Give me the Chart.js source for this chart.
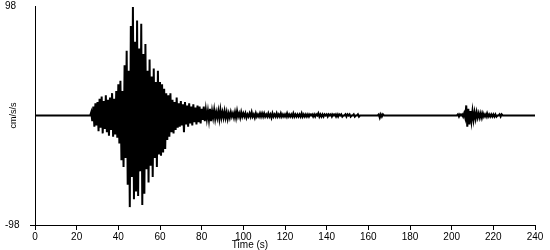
<!DOCTYPE html>
<html>
<head>
<meta charset="utf-8">
<script src="https://cdn.jsdelivr.net/npm/chart.js@4"></script>
<style>
  html, body { margin: 0; padding: 0; background: #fff; }
  #wrap { width: 550px; height: 250px; }
</style>
</head>
<body>
<div id="wrap"><canvas id="seismo"></canvas></div>
<script>
// sample spacing of the trace (s)
var sampleStep = 0.5;

// acceleration (cm/s/s), one row per 10 s
var accel = [
    0, 0, 0, 0, 0, 0, 0, 0, 0, 0, 0, 0, 0, 0, 0, 0, 0, 0, 0, 0,                      // 0-10
    0, 0, 0, 0, 0, 0, 0, 0, 0, 0, 0, 0, 0, 0, 0, 0, 0, 0, 0, 0,                      // 10-20
    0, 0, 0, 0, 0, 0, 0, 0, 0, 0, 0, 0, 0, 0, 3, -5, 8, -10, 11, -9,                 // 20-30
    12, -14, 15, -11, 17, -16, 13, -12, 18, -15, 14, -18, 16, -13, 20, -19, 15, -17, 22, -20,   // 30-40
    28, -25, 31, -40, 22, -46, 45, -38, 58, -62, 40, -82, 80, -55, 97, -75, 66, -68, 85, -72,   // 40-50
    60, -50, 82, -80, 55, -70, 64, -48, 40, -60, 50, -45, 35, -55, 42, -38, 30, -46, 40, -35,   // 50-60
    30, -36, 28, -33, 24, -30, 20, -22, 18, -19, 20, -15, 14, -16, 12, -13, 16, -11, 11, -10,   // 60-70
    13, -9, 10, -15, 12, -8, 9, -10, 11, -7, 8, -9, 10, -6, 7, -8, 9, -6, 8, -7,     // 70-80
    6, -4, 8, -5, 5, -3, 4, -4, 6, -5, 4, -2, 5, -3, 3, -2, 4, -3, 5, -2,            // 80-90
    3, -2, 4, -2, 3, -3, 2, -2, 3, -1, 2, -2, 3, -2, 4, -1, 2, -2, 3, -1,            // 90-100
    2, -1, 2, -2, 1, -1, 2, -1, 3, -1, 1, -2, 2, -1, 1, -1, 2, -1, 2, -1,            // 100-110
    2, -1, 1, -1, 2, -1, 1, -2, 2, -1, 1, -1, 2, -1, 1, -1, 2, -1, 1, -1,            // 110-120
    1, -1, 2, -1, 1, -1, 1, -1, 2, -1, 1, -1, 1, -1, 1, -1, 2, -1, 1, -1,            // 120-130
    1, -1, 1, -1, 1, 0, 1, -1, 1, -1, 1, 0, 2, -1, 1, -1, 1, -1, 1, 0,               // 130-140
    1, -1, 1, 0, 1, -1, 1, 0, 1, -1, 1, -1, 1, 0, 1, -1, 0, 0, 1, -1,                // 140-150
    1, 0, 1, -1, 0, 0, 1, -1, 0, 0, 1, -1, 0, 0, 0, 0, 0, 0, 0, 0,                   // 150-160
    0, 0, 0, 0, 0, 0, 0, 0, 0, 0, 1, -2, 1, -1, 1, 0, 0, 0, 0, 0,                    // 160-170
    0, 0, 0, 0, 0, 0, 0, 0, 0, 0, 0, 0, 0, 0, 0, 0, 0, 0, 0, 0,                      // 170-180
    0, 0, 0, 0, 0, 0, 0, 0, 0, 0, 0, 0, 0, 0, 0, 0, 0, 0, 0, 0,                      // 180-190
    0, 0, 0, 0, 0, 0, 0, 0, 0, 0, 0, 0, 0, 0, 0, 0, 0, 0, 0, 0,                      // 190-200
    0, 0, 0, 0, 0, 0, 1, -1, 1, 0, 1, -1, 2, -2, 9, -10, 6, -8, 4, -5,               // 200-210
    4, -4, 3, -3, 3, -2, 2, -2, 2, -2, 2, -1, 1, -1, 2, -1, 1, -1, 1, -1,            // 210-220
    1, -1, 1, -1, 0, 0, 1, -1, 1, 0, 0, 0, 0, 0, 0, 0, 0, 0, 0, 0,                   // 220-230
    0, 0, 0, 0, 0, 0, 0, 0, 0, 0, 0, 0, 0, 0, 0, 0, 0, 0, 0, 0,                      // 230-240
    0
];

var yTicks = [-98, 98];
var xMax = 240;
var xStep = 20;

var points = accel.map(function (v, i) {
    return { x: i * sampleStep, y: v };
});

var FONT = "'Liberation Sans', Arial, sans-serif";

// "Time (s)" sits a bit left of the plot centre in the original
var timeLabel = {
    id: 'timeLabel',
    afterDraw(chart) {
        var c = chart.ctx;
        c.save();
        c.font = '10px ' + FONT;
        c.fillStyle = '#000';
        c.textAlign = 'center';
        c.textBaseline = 'middle';
        c.fillText('Time (s)', 250, 245);
        c.restore();
    }
};

var ctx = document.getElementById('seismo').getContext('2d');
var seismo = new Chart(ctx, {
    type: 'line',
    data: {
        datasets: [{
            data: points,
            borderColor: '#000',
            borderWidth: 2,
            pointRadius: 0,
            tension: 0,
            fill: false
        }]
    },
    options: {
        responsive: true,
        maintainAspectRatio: false,
        animation: false,
        events: [],
        layout: { padding: { top: 0, right: 15, left: 5, bottom: 0 } },
        plugins: {
            legend: { display: false },
            tooltip: { enabled: false }
        },
        scales: {
            x: {
                type: 'linear',
                min: 0,
                max: xMax,
                afterFit(scale) { scale.height = 25; },
                border: { color: '#000', width: 1 },
                grid: { drawOnChartArea: false, color: '#000', tickLength: 5 },
                ticks: {
                    stepSize: xStep,
                    color: '#000',
                    font: { family: FONT, size: 10 },
                    padding: 1,
                    maxRotation: 0
                }
            },
            y: {
                min: yTicks[0],
                max: yTicks[1],
                afterBuildTicks(scale) {
                    scale.ticks = yTicks.map(function (v) { return { value: v }; });
                },
                afterFit(scale) { scale.width = 30; },
                border: { color: '#000', width: 1 },
                grid: {
                    drawOnChartArea: false,
                    tickLength: 5,
                    tickColor: function (c) { return c.tick && c.tick.value < 0 ? '#000' : 'rgba(0,0,0,0)'; }
                },
                title: {
                    display: true,
                    text: 'cm/s/s',
                    color: '#000',
                    font: { family: FONT, size: 9 },
                    padding: { top: 3, bottom: 0 }
                },
                ticks: {
                    color: '#000',
                    font: { family: FONT, size: 10 },
                    crossAlign: 'far',
                    padding: 0
                }
            }
        }
    },
    plugins: [timeLabel]
});
</script>
</body>
</html>
